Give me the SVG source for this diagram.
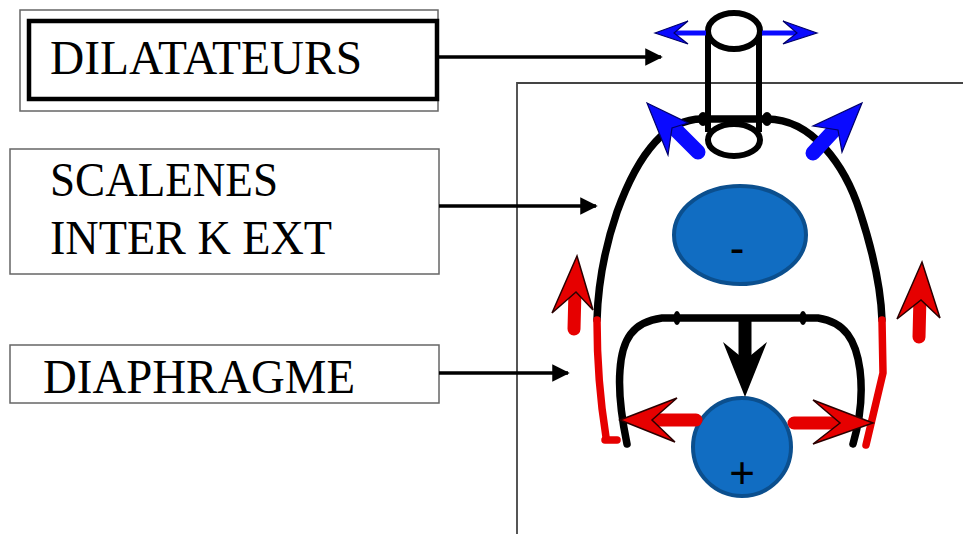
<svg xmlns="http://www.w3.org/2000/svg" width="963" height="534" viewBox="0 0 963 534">
  <style>
    .lbl { font-family: "Liberation Serif", "DejaVu Serif", serif; font-size: 48px; fill: #000; }
    .thinbox { fill: #fff; stroke: #666; stroke-width: 1.5; }
    .axis { fill: none; stroke: #444; stroke-width: 1.8; }
    .conn { fill: none; stroke: #000; stroke-width: 3.5; }
    .rib { fill: none; stroke: #000; stroke-width: 7.5; stroke-linecap: round; stroke-linejoin: round; }
    .ribred { fill: none; stroke: #e60000; stroke-width: 7.5; stroke-linecap: round; stroke-linejoin: round; }
    .tube { fill: #fff; stroke: #000; stroke-width: 6; }
    .tubeline { stroke: #000; stroke-width: 6; }
    .knob { fill: #000; }
    .blue-shaft { stroke: #0a0aff; stroke-width: 15; stroke-linecap: round; }
    .blue-thin { stroke: #0a0aff; stroke-width: 5; }
    .blue-head { fill: #0a0aff; stroke: #00006a; stroke-width: 1.2; stroke-linejoin: miter; }
    .red-shaft { stroke: #e60000; stroke-width: 13; stroke-linecap: round; }
    .red-head { fill: #e60000; stroke: #2a0000; stroke-width: 1.5; stroke-linejoin: miter; }
    .black-shaft { stroke: #000; stroke-width: 13; }
    .black-head { fill: #000; }
    .cavity { fill: #116dc2; stroke: #0b4f8e; stroke-width: 4; }
    .sign { font-family: "Liberation Sans", "DejaVu Sans", sans-serif; fill: #000; text-anchor: middle; }
  </style>
  <defs>
    <marker id="tip" viewBox="0 0 10 10" refX="9" refY="5" markerWidth="5" markerHeight="5" markerUnits="strokeWidth" orient="auto">
      <path d="M0,0 L10,5 L0,10 Z" fill="#000"/>
    </marker>
  </defs>

  <!-- label boxes -->
  <g id="dilatateurs">
    <rect class="thinbox" x="20" y="10" width="418" height="101"/>
    <rect x="29" y="21" width="408" height="78" fill="#fff" stroke="#000" stroke-width="4.5"/>
    <text class="lbl" x="50" y="74" textLength="312" lengthAdjust="spacingAndGlyphs">DILATATEURS</text>
  </g>
  <g id="scalenes">
    <rect class="thinbox" x="10" y="149" width="429" height="125"/>
    <text class="lbl" x="50" y="196" textLength="228" lengthAdjust="spacingAndGlyphs">SCALENES</text>
    <text class="lbl" x="50" y="254" textLength="282" lengthAdjust="spacingAndGlyphs">INTER K EXT</text>
  </g>
  <g id="diaphragme">
    <rect class="thinbox" x="10" y="345" width="429" height="58"/>
    <text class="lbl" x="43" y="393" textLength="312" lengthAdjust="spacingAndGlyphs">DIAPHRAGME</text>
  </g>

  <!-- frame axes -->
  <g id="axes">
    <path class="axis" d="M517,534 L517,83 L963,83"/>
  </g>

  <!-- connectors -->
  <g id="connectors">
    <line class="conn" x1="439" y1="57" x2="661" y2="57" marker-end="url(#tip)"/>
    <line class="conn" x1="439" y1="206" x2="596" y2="206" marker-end="url(#tip)"/>
    <line class="conn" x1="439" y1="373" x2="568" y2="373" marker-end="url(#tip)"/>
  </g>

  <!-- thorax -->
  <g id="thorax">
    <!-- rib cage outline -->
    <path class="rib" d="M702,119 C660,119 634,165 617,212 C604,250 598,285 597,320"/>
    <path class="ribred" d="M597,320 C597,360 600,400 606,437"/>
    <line class="ribred" x1="605" y1="440" x2="617" y2="440"/>
    <path class="rib" d="M767,119 C812,119 845,165 860,212 C874,255 881,290 882,320"/>
    <path class="ribred" d="M882,320 L883,373 L866,445"/>
    <line class="rib" x1="702" y1="119" x2="767" y2="119"/>
    <ellipse class="knob" cx="703" cy="119" rx="5" ry="7"/>
    <ellipse class="knob" cx="767" cy="119" rx="5" ry="7"/>
  </g>

  <g id="trachea">
    <line class="tubeline" x1="708" y1="31" x2="708" y2="132"/>
    <line class="tubeline" x1="759" y1="31" x2="759" y2="132"/>
    <ellipse class="tube" cx="734" cy="140" rx="26" ry="16"/>
    <ellipse class="tube" cx="734" cy="31" rx="26" ry="18"/>
  </g>

  <g id="diaphragm">
    <path class="rib" d="M627,444 C622,420 618,395 620,370 C622,340 632,322 662,318 L818,318 C845,322 856,340 860,370 C863,395 860,420 853,444"/>
    <ellipse class="knob" cx="677" cy="318" rx="3.5" ry="7"/>
    <ellipse class="knob" cx="803" cy="318" rx="3.5" ry="7"/>
  </g>

  <!-- pressure cavities -->
  <g id="pleural">
    <ellipse class="cavity" cx="740" cy="235" rx="66" ry="49"/>
    <text class="sign" x="737" y="263" font-size="44">-</text>
  </g>
  <g id="abdominal">
    <circle class="cavity" cx="742" cy="447" r="49"/>
    <text class="sign" x="742" y="488" font-size="44">+</text>
  </g>

  <!-- movement arrows -->
  <g id="blue-arrows">
    <line class="blue-thin" x1="706" y1="33" x2="670" y2="33"/>
    <path class="blue-head" d="M655,33 L688,21 L674,33 L688,44 Z"/>
    <line class="blue-thin" x1="762" y1="33" x2="800" y2="33"/>
    <path class="blue-head" d="M817,33 L783,21 L797,33 L783,44 Z"/>
    <line class="blue-shaft" x1="698" y1="152" x2="674" y2="128"/>
    <path class="blue-head" d="M647,103 L688,123 L672,128 L668,155 Z"/>
    <line class="blue-shaft" x1="813" y1="153" x2="837" y2="127"/>
    <path class="blue-head" d="M862,103 L842,152 L838,130 L813,126 Z"/>
  </g>

  <g id="red-arrows">
    <line class="red-shaft" x1="574" y1="329" x2="575" y2="290"/>
    <path class="red-head" d="M577,256 L593,310 L576,292 L552,313 Z"/>
    <line class="red-shaft" x1="919" y1="337" x2="920" y2="296"/>
    <path class="red-head" d="M922,262 L940,318 L921,300 L897,319 Z"/>
    <line class="red-shaft" x1="696" y1="420" x2="650" y2="420"/>
    <path class="red-head" d="M620,420 L677,398 L652,420 L675,442 Z"/>
    <line class="red-shaft" x1="794" y1="423" x2="840" y2="423"/>
    <path class="red-head" d="M873,423 L813,400 L840,423 L813,444 Z"/>
  </g>

  <g id="black-arrow">
    <line class="black-shaft" x1="745" y1="318" x2="745" y2="365"/>
    <path class="black-head" d="M745,397 L723,342 L745,360 L767,342 Z"/>
  </g>
</svg>
